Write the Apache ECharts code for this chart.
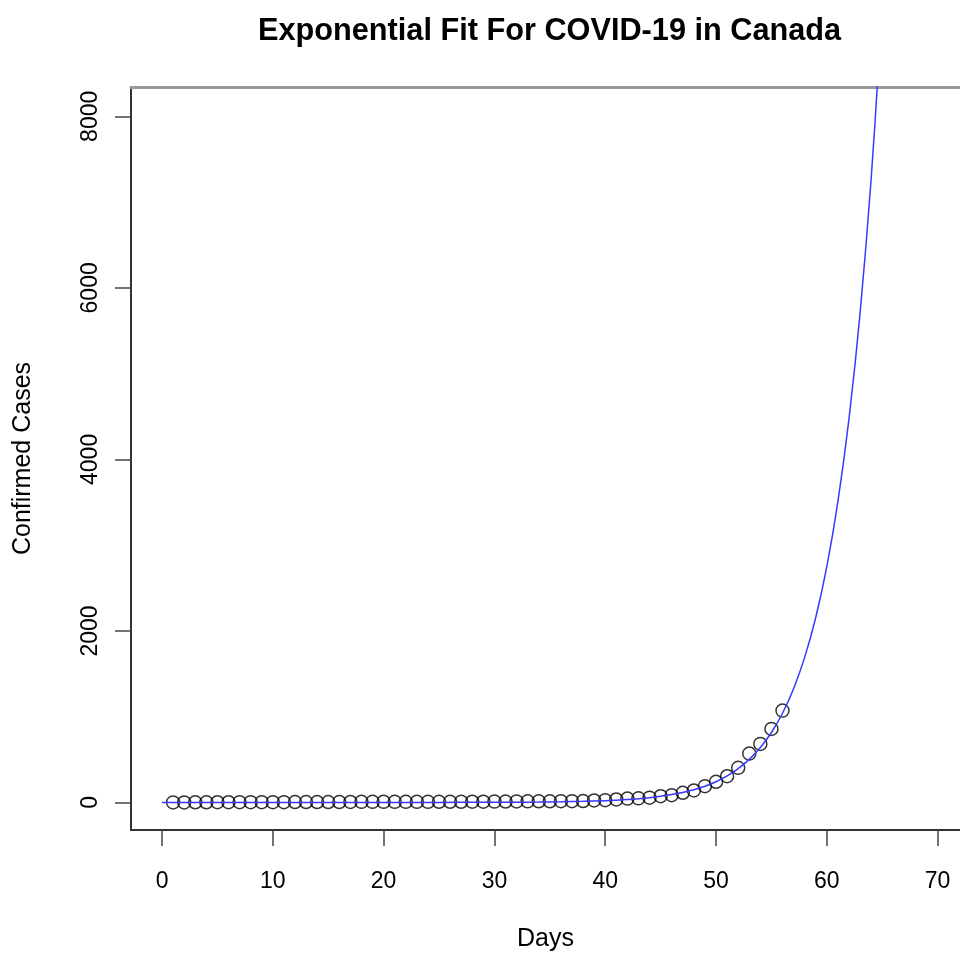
<!DOCTYPE html>
<html>
<head>
<meta charset="utf-8">
<title>Exponential Fit For COVID-19 in Canada</title>
<script src="https://cdn.jsdelivr.net/npm/echarts@6/dist/echarts.min.js"></script>
<style>
  html, body { margin: 0; padding: 0; background: #fff; }
  #chart { width: 960px; height: 957px; }
</style>
</head>
<body>
<div id="chart"></div>
<script>
// observed confirmed cases, day 1..56
const days = [1,2,3,4,5,6,7,8,9,10,11,12,13,14,15,16,17,18,19,20,21,22,23,24,25,26,27,28,
  29,30,31,32,33,34,35,36,37,38,39,40,41,42,43,44,45,46,47,48,49,50,51,52,53,54,55,56];
const cases = [1,1,2,2,3,3,4,4,4,4,4,5,5,5,5,5,6,7,7,7,7,7,7,7,8,8,8,9,9,10,
  11,12,13,14,14,15,15,17,23,27,35,45,48,56,73,85,113,140,190,241,306,404,570,683,858,1071];

// fitted curve
const fitDays = [0,5,10,15,20,25,30,32,34,36,38,40,41,42,43,44,45,46,47,48,49,50,51,52,53,54,55,56,
  57,58,59,60,61,62,63,64,65];
const fitCases = [0,0,0,0,0.2,0.6,1.9,3.1,5,8.1,13.1,21.3,27.2,34.6,44.2,56.3,71.8,91.6,117,149,190,242,
  309,394,502,640,816,1040,1327,1692,2157,2750,3507,4472,5702,7270,9270];

const xTicks = [0,10,20,30,40,50,60,70];
const yTicks = [0,2000,4000,6000,8000];

const font = 'Liberation Sans, Helvetica, Arial, sans-serif';
const chart = echarts.init(document.getElementById('chart'));

chart.setOption({
  animation: false,
  backgroundColor: '#fff',
  title: {
    text: 'Exponential Fit For COVID-19 in Canada',
    left: 253,
    top: 11,
    textStyle: { fontFamily: font, fontSize: 30.7, fontWeight: 'bold', color: '#000' }
  },
  grid: {
    left: 131, top: 87, right: 0, bottom: 126,
    show: false
  },
  xAxis: [
    {
      type: 'value',
      min: -2.8, max: 72.02,
      name: 'Days',
      nameLocation: 'middle',
      nameGap: 97,
      nameTextStyle: { fontFamily: font, fontSize: 25, color: '#000' },
      axisLine: { show: true, onZero: false, lineStyle: { color: '#333', width: 2 } },
      axisTick: { show: true, inside: false, length: 16, customValues: xTicks, lineStyle: { color: '#444', width: 1.5 } },
      axisLabel: { customValues: xTicks, margin: 40, fontFamily: font, fontSize: 23, color: '#000',
        formatter: v => String(v) },
      splitLine: { show: false }
    },
    {
      // top edge of the plot box
      type: 'value',
      position: 'top',
      min: -2.8, max: 72.02,
      axisLine: { show: true, onZero: false, lineStyle: { color: '#999', width: 3 } },
      axisTick: { show: false },
      axisLabel: { show: false },
      splitLine: { show: false }
    }
  ],
  yAxis: {
    type: 'value',
    min: -321, max: 8342,
    name: 'Confirmed Cases',
    nameLocation: 'middle',
    nameGap: 95,
    nameRotate: 90,
    nameTextStyle: { fontFamily: font, fontSize: 25, color: '#000' },
    axisLine: { show: true, onZero: false, lineStyle: { color: '#333', width: 2 } },
    axisTick: { show: true, inside: false, length: 16, customValues: yTicks, lineStyle: { color: '#444', width: 1.5 } },
    axisLabel: { customValues: yTicks, rotate: 90, margin: 29, fontFamily: font, fontSize: 23, color: '#000',
      formatter: v => String(v) },
    splitLine: { show: false }
  },
  series: [
    {
      type: 'scatter',
      data: days.map((d, i) => [d, cases[i]]),
      symbol: 'circle',
      symbolSize: 13,
      itemStyle: { color: 'rgba(0,0,0,0)', borderColor: '#000', borderWidth: 1.5 }
    },
    {
      type: 'line',
      data: fitDays.map((d, i) => [d, fitCases[i]]),
      showSymbol: false,
      smooth: 0.4,
      clip: true,
      lineStyle: { color: '#3838ff', width: 1.5 }
    }
  ]
});
</script>
</body>
</html>
